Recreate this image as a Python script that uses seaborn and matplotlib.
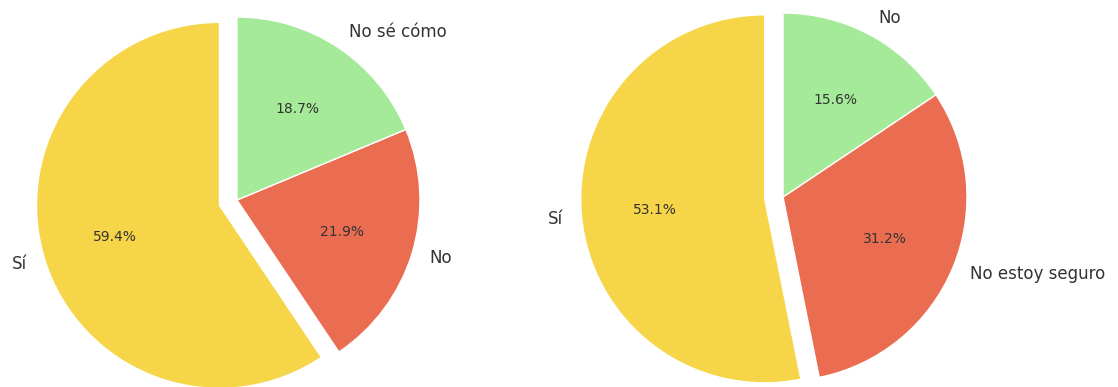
import matplotlib
matplotlib.use("Agg")
import matplotlib.pyplot as plt
import seaborn as sns

# Survey answers, two questions (percent of respondents)
left_labels = ["Sí", "No", "No sé cómo"]
left_values = [59.4, 21.9, 18.7]

right_labels = ["Sí", "No estoy seguro", "No"]
right_values = [53.1, 31.2, 15.6]

palette = sns.color_palette(["#F6D548", "#EA6D52", "#A5EA98"])

sns.set_theme(style="white")
plt.rcParams["font.family"] = ["DejaVu Sans"]

W, H = 1118, 387
fig = plt.figure(figsize=(W / 100, H / 100), dpi=100)

LIM = 1.25


def pie_axes(cx, cy, r):
    """Square axes (in pixels) whose unit circle has radius r, centred at (cx, cy) from top-left."""
    side = 2 * LIM * r
    return fig.add_axes([(cx - LIM * r) / W, (H - cy - LIM * r) / H, side / W, side / H])


def draw(ax, labels, values):
    total = sum(values)
    ax.pie(values, labels=labels, colors=palette,
           autopct=lambda p: f"{p * total / 100:.1f}%",
           startangle=90, explode=[0.1, 0, 0], labeldistance=1.1,
           pctdistance=0.6, textprops={"fontsize": 12, "color": "#333333"})
    for t in ax.texts:
        if t.get_text().endswith("%"):
            t.set_fontsize(10)
    ax.set_xlim(-LIM, LIM)
    ax.set_ylim(-LIM, LIM)
    ax.set_aspect("equal")
    ax.axis("off")


draw(pie_axes(237, 200, 183), left_labels, left_values)
draw(pie_axes(783, 197, 184), right_labels, right_values)

fig.savefig("out.png", dpi=100)
